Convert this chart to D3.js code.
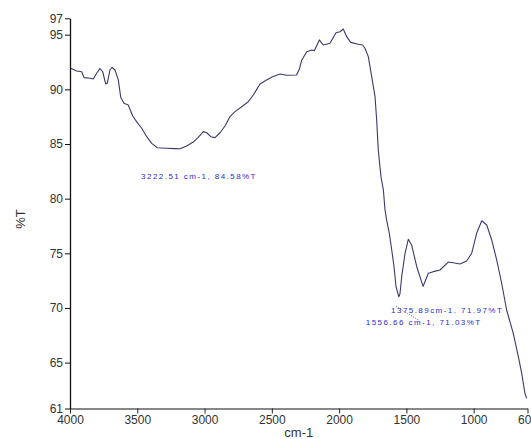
<!DOCTYPE html>
<html>
<head>
<meta charset="utf-8">
<script src="https://cdn.jsdelivr.net/npm/d3@7"></script>
<style>
  html, body { margin: 0; padding: 0; background: #fff; }
  svg { display: block; }
  .tick text { font-family: "Liberation Sans", Arial, sans-serif; font-size: 12px; fill: #333; }
</style>
</head>
<body>
<svg id="chart" width="531" height="439"></svg>
<script>
// IR spectrum: wavenumber (cm-1) vs transmittance (%T)
const wavenumbers = [3995, 3950, 3913, 3896, 3851, 3827, 3802, 3777, 3757, 3735, 3723, 3703, 3688, 3666,
  3641, 3623, 3599, 3567, 3534, 3500, 3467, 3430, 3393, 3351, 3281, 3222.51, 3183, 3133, 3084, 3047,
  3009, 2984, 2954, 2922, 2885, 2848, 2811, 2774, 2724, 2675, 2638, 2588, 2539, 2494, 2439, 2390,
  2316, 2296, 2278, 2241, 2204, 2184, 2147, 2118, 2068, 2023, 1993, 1969, 1944, 1914, 1857, 1825,
  1808, 1783, 1758, 1733, 1721, 1709, 1689, 1671, 1659, 1647, 1627, 1609, 1592, 1577, 1556.66, 1548,
  1535, 1510, 1486, 1461, 1423, 1375.89, 1362, 1337, 1300, 1250, 1189, 1151, 1102, 1052, 1015, 978,
  940, 903, 866, 829, 792, 755, 706, 668, 643, 619, 606];
const transmittance = [91.93, 91.68, 91.61, 91.07, 91.01, 90.95, 91.47, 91.89, 91.61, 90.49, 90.55, 91.77, 92.02, 91.77,
  90.86, 89.27, 88.72, 88.57, 87.56, 86.95, 86.44, 85.67, 85.06, 84.66, 84.61, 84.58, 84.57, 84.82, 85.18, 85.61,
  86.13, 86.03, 85.67, 85.58, 86.03, 86.65, 87.50, 87.96, 88.41, 88.87, 89.48, 90.49, 90.86, 91.16, 91.40, 91.29,
  91.31, 91.83, 92.67, 93.44, 93.60, 93.54, 94.52, 94.06, 94.21, 95.18, 95.27, 95.52, 94.82, 94.30, 94.12, 94.06,
  93.76, 92.99, 91.16, 89.33, 87.20, 84.45, 82.01, 80.79, 78.96, 78.05, 76.83, 75.30, 73.77, 71.94, 71.03, 71.28,
  72.86, 75.00, 76.28, 75.76, 73.77, 71.97, 72.40, 73.17, 73.32, 73.47, 74.20, 74.14, 74.02, 74.30, 75.00, 76.83,
  77.98, 77.59, 76.22, 74.39, 72.26, 69.81, 67.68, 65.54, 64.02, 62.19, 61.73];

// Axis ticks
const xTickValues = [4000, 3500, 3000, 2500, 2000, 1500, 1000, 600];
const xTickLabels = ["4000", "3500", "3000", "2500", "2000", "1500", "1000", "600"];
const yTickValues = [60.8, 65, 70, 75, 80, 85, 90, 95, 96.5];
const yTickLabels = ["61", "65", "70", "75", "80", "85", "90", "95", "97"];

// Peak-pick labels
const peakWavenumbers = [3222.51, 1375.89, 1556.66];
const peakValues = [84.58, 71.97, 71.03];
const peakTexts = ["3222.51 cm-1, 84.58%T", "1375.89cm-1. 71.97%T", "1556.66 cm-1, 71.03%T"];

const svg = d3.select("#chart");
const plotLeft = 70, plotRight = 527.5, plotTop = 18.3, plotBottom = 408.5;

const x = d3.scaleLinear().domain([4000, 600]).range([plotLeft, plotRight]);
const y = d3.scaleLinear().domain([60.8, 96.5]).range([plotBottom, plotTop]);

// x axis
const xAxis = svg.append("g")
  .attr("transform", `translate(0,${plotBottom})`)
  .call(d3.axisBottom(x).tickValues(xTickValues)
    .tickFormat((d, i) => xTickLabels[i]).tickSizeInner(5).tickSizeOuter(0).tickPadding(2));
xAxis.select(".domain").attr("stroke", "#888").attr("stroke-width", 2);
xAxis.selectAll(".tick line").attr("stroke", "#222");

// y axis
const yAxis = svg.append("g")
  .attr("transform", `translate(${plotLeft},0)`)
  .call(d3.axisLeft(y).tickValues(yTickValues)
    .tickFormat((d, i) => yTickLabels[i]).tickSizeInner(5).tickSizeOuter(0).tickPadding(2));
yAxis.select(".domain").attr("stroke", "#111").attr("stroke-width", 1.3);
yAxis.selectAll(".tick line").attr("stroke", "#111");

// axis titles
svg.append("text")
  .attr("x", (plotLeft + plotRight) / 2).attr("y", 437)
  .attr("text-anchor", "middle")
  .attr("font-family", "Liberation Sans, Arial, sans-serif")
  .attr("font-size", 13).attr("fill", "#333")
  .text("cm-1");

svg.append("text")
  .attr("transform", "translate(25,219) rotate(-90)")
  .attr("text-anchor", "middle")
  .attr("font-family", "Liberation Sans, Arial, sans-serif")
  .attr("font-size", 13).attr("fill", "#333")
  .text("%T");

// spectrum trace
const pts = wavenumbers.map((w, i) => [w, transmittance[i]]);
svg.append("path")
  .datum(pts)
  .attr("fill", "none")
  .attr("stroke", "#3a3a6a")
  .attr("stroke-width", 1.1)
  .attr("stroke-linejoin", "round")
  .attr("d", d3.line().x(d => x(d[0])).y(d => y(d[1])));

// peak labels, offset below-left of their peaks
const labelOffsets = [[-33.5, 30], [-32, 27], [-33, 28.5]];
const labels = svg.append("g")
  .attr("font-family", "Liberation Sans, Arial, sans-serif")
  .attr("font-size", 8)
  .attr("letter-spacing", 1.45)
  .attr("fill", "#2a2ad0");
peakTexts.forEach((t, i) => {
  labels.append("text")
    .attr("x", x(peakWavenumbers[i]) + labelOffsets[i][0])
    .attr("y", y(peakValues[i]) + labelOffsets[i][1])
    .text(t);
});

// dotted leader between the two overlapping low-band labels
const lx = x(peakWavenumbers[1]) + labelOffsets[1][0] + 5;
const ly = y(peakValues[1]) + labelOffsets[1][1] - 7;
svg.append("line")
  .attr("x1", lx).attr("y1", ly)
  .attr("x2", lx + 23).attr("y2", ly + 14)
  .attr("stroke", "#333")
  .attr("stroke-width", 0.8)
  .attr("stroke-dasharray", "1,1.5");
</script>
</body>
</html>
